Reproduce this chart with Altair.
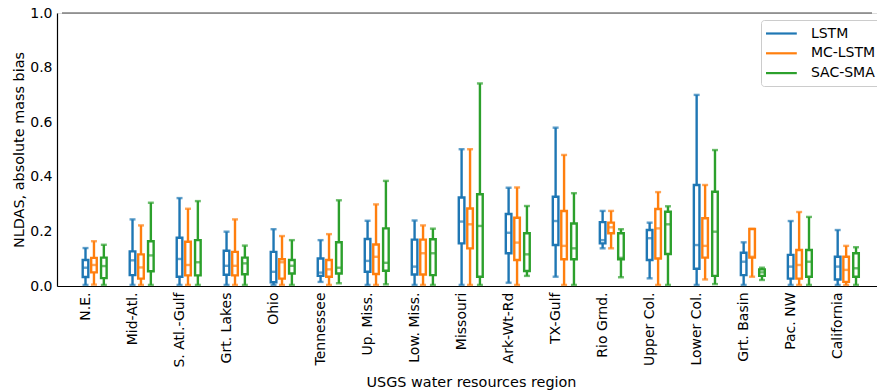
import altair as alt
import pandas as pd

# USGS water resources regions (x categories)
regions = ["N.E.", "Mid-Atl.", "S. Atl.-Gulf", "Grt. Lakes", "Ohio", "Tennessee",
           "Up. Miss.", "Low. Miss.", "Missouri", "Ark-Wt-Rd", "TX-Gulf", "Rio Grnd.",
           "Upper Col.", "Lower Col.", "Grt. Basin", "Pac. NW", "California"]

models = ["LSTM", "MC-LSTM", "SAC-SMA"]
colors = ["#1f77b4", "#ff7f0e", "#2ca02c"]

# Box-plot statistics of absolute mass bias per region: whisker low, Q1, median, Q3, whisker high
lstm_lo  = [.004, .004, .004, .004, .004, .015, .004, .004, .004, .012, .034, .138, .028, .004, .004, .004, .004]
lstm_q1  = [.033, .040, .034, .041, .014, .037, .052, .042, .156, .120, .150, .156, .095, .063, .040, .027, .024]
lstm_med = [.067, .094, .099, .074, .052, .049, .092, .071, .236, .195, .238, .168, .175, .150, .089, .071, .071]
lstm_q3  = [.095, .127, .177, .129, .125, .101, .172, .170, .324, .264, .327, .234, .205, .370, .122, .114, .107]
lstm_hi  = [.139, .244, .322, .199, .208, .168, .239, .240, .501, .360, .580, .275, .232, .700, .160, .238, .205]

mc_lo  = [.005, .004, .004, .004, .004, .004, .004, .004, .004, .004, .004, .138, .004, .024, .034, .004, .004]
mc_q1  = [.050, .027, .039, .039, .027, .034, .044, .042, .138, .095, .098, .193, .101, .104, .104, .027, .015]
mc_med = [.077, .068, .077, .074, .087, .061, .107, .120, .226, .159, .147, .215, .211, .147, .107, .077, .059]
mc_q3  = [.103, .116, .162, .125, .098, .095, .152, .170, .284, .250, .275, .232, .282, .248, .209, .132, .107]
mc_hi  = [.164, .222, .283, .244, .183, .190, .299, .222, .501, .361, .480, .275, .344, .370, .209, .271, .147]

sac_lo  = [.004, .004, .004, .004, .004, .010, .006, .004, .004, .037, .004, .032, .004, .007, .022, .004, .004]
sac_q1  = [.029, .054, .039, .043, .046, .046, .056, .040, .034, .055, .098, .098, .117, .037, .037, .034, .034]
sac_med = [.073, .112, .087, .083, .074, .067, .085, .120, .220, .116, .138, .103, .226, .199, .050, .089, .065]
sac_q3  = [.104, .164, .168, .104, .095, .160, .211, .171, .336, .193, .229, .193, .272, .345, .061, .132, .120]
sac_hi  = [.151, .305, .311, .148, .168, .314, .385, .210, .742, .293, .340, .208, .292, .498, .067, .253, .142]

stats = {
    "LSTM": (lstm_lo, lstm_q1, lstm_med, lstm_q3, lstm_hi),
    "MC-LSTM": (mc_lo, mc_q1, mc_med, mc_q3, mc_hi),
    "SAC-SMA": (sac_lo, sac_q1, sac_med, sac_q3, sac_hi),
}
# horizontal offset of each model's box within a region group
offsets = {"LSTM": 0.0, "MC-LSTM": 0.18, "SAC-SMA": 0.39}

rows = []
for m in models:
    lo, q1, med, q3, hi = stats[m]
    for i, r in enumerate(regions):
        rows.append({"region": r, "model": m, "pos": i + offsets[m],
                     "lo": lo[i], "q1": q1[i], "med": med[i], "q3": q3[i], "hi": hi[i]})
df = pd.DataFrame(rows)

FONT = "DejaVu Sans"
W, H = 820, 273
x_dom = [-0.5, 16.73]

label_expr = "[" + ",".join("'" + r + "'" for r in regions) + "][datum.value]"

x_enc = alt.X("pos:Q",
              scale=alt.Scale(domain=x_dom, nice=False, zero=False),
              axis=alt.Axis(values=list(range(len(regions))), labelExpr=label_expr,
                            labelAngle=270, labelFont=FONT, labelFontSize=14,
                            labelColor="black", labelPadding=6, ticks=False, tickSize=0,
                            grid=False, domainColor="black", domainWidth=1.2,
                            title="USGS water resources region", titleFont=FONT,
                            titleFontSize=14.4, titleFontWeight="normal", titleColor="black",
                            titleX=414, titleY=100, titleBaseline="alphabetic",
                            titleAlign="center"))
y_scale = alt.Scale(domain=[0, 1], nice=False)
y_axis = alt.Axis(values=[0, 0.2, 0.4, 0.6, 0.8, 1.0], format=".1f", labelFont=FONT,
                  labelFontSize=14, labelColor="black", labelPadding=5, ticks=False,
                  tickSize=0, grid=False, domainColor="black", domainWidth=1.2,
                  title="NLDAS, absolute mass bias", titleFont=FONT, titleFontSize=14.4,
                  titleFontWeight="normal", titleColor="black",
                  titleX=-34, titleY=136.5, titleBaseline="alphabetic", titleAlign="center")

color_scale = alt.Scale(domain=models, range=colors)

legend = alt.Legend(title=None, orient="none", legendX=704, legendY=7,
                    symbolType="M-2.2,0H2.2", symbolSize=196, symbolStrokeWidth=2.2,
                    symbolOffset=6.9, labelOffset=21, labelFont=FONT, labelFontSize=14,
                    labelColor="black", padding=5, rowPadding=3.8,
                    strokeColor="#cccccc", fillColor="rgba(255,255,255,0.8)",
                    cornerRadius=3)

base = alt.Chart(df)

whiskers = base.mark_rule(strokeWidth=2.4).encode(
    x=x_enc,
    y=alt.Y("lo:Q", scale=y_scale, axis=y_axis),
    y2="hi:Q",
    color=alt.Color("model:N", scale=color_scale, legend=legend),
)

caps_lo = base.mark_tick(orient="horizontal", size=6, thickness=2.4).encode(
    x="pos:Q", y="lo:Q", color=alt.Color("model:N", scale=color_scale, legend=None))
caps_hi = base.mark_tick(orient="horizontal", size=6, thickness=2.4).encode(
    x="pos:Q", y="hi:Q", color=alt.Color("model:N", scale=color_scale, legend=None))

boxes = base.mark_bar(size=5.6, fill="white", strokeWidth=2.4).encode(
    x="pos:Q", y="q1:Q", y2="q3:Q",
    stroke=alt.Stroke("model:N", scale=color_scale, legend=None))

medians = base.mark_tick(orient="horizontal", size=6, thickness=2.4).encode(
    x="pos:Q", y="med:Q", color=alt.Color("model:N", scale=color_scale, legend=None))

# upper frame line of the axes
top_line = alt.Chart(pd.DataFrame({"a": [0]})).mark_rule(color="#444444", strokeWidth=1.2).encode(
    x=alt.datum(x_dom[0]), x2=alt.datum(x_dom[1]), y=alt.datum(1.0))

chart = alt.layer(whiskers, caps_lo, caps_hi, boxes, medians, top_line).properties(
    width=W, height=H,
    autosize=alt.AutoSizeParams(type="none"),
    padding={"left": 57, "top": 13, "right": 0, "bottom": 105},
).configure_view(stroke=None).configure(background="white")

chart.save("out.html", embed_options={"renderer": "svg", "actions": False})
